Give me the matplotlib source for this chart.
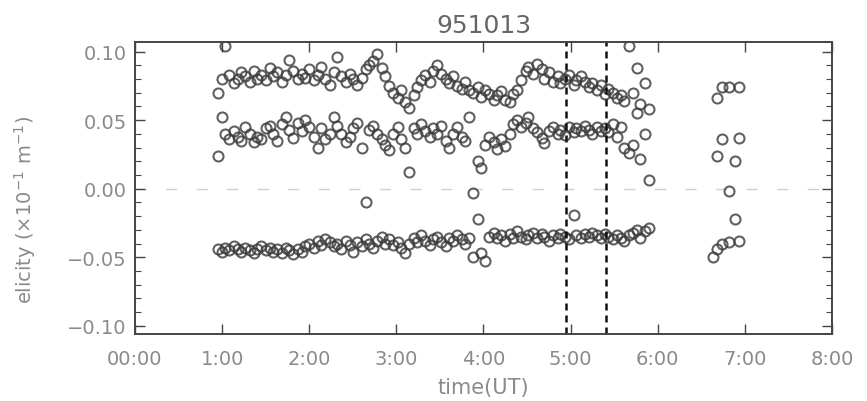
import numpy as np
import matplotlib
matplotlib.use("Agg")
import matplotlib.pyplot as plt
from matplotlib.ticker import FixedLocator, MultipleLocator

title = "951013"
xlabel = "time(UT)"
ylabel = "elicity (\u00d710$^{-1}$ m$^{-1}$)"
xtick_labels = ["00:00", "1:00", "2:00", "3:00", "4:00", "5:00", "6:00", "7:00", "8:00"]
ytick_values = [-0.10, -0.05, 0.00, 0.05, 0.10]
vlines_hours = [4.95, 5.41]

nan = np.nan
minutes = [57, 60, 62, 65, 68, 71, 73, 76, 79, 82, 84, 87, 90, 93, 95, 98, 101, 104, 106, 109,
           112, 115, 117, 120, 123, 126, 128, 131, 134, 137, 139, 142, 145, 148, 150, 153, 156, 159, 161, 164,
           167, 170, 172, 175, 178, 181, 183, 186, 189, 192, 194, 197, 200, 203, 205, 208, 211, 214, 216, 219,
           222, 225, 227, 230, 233, 236, 238, 241, 244, 247, 249, 252, 255, 258, 260, 263, 266, 269, 271, 274,
           277, 280, 282, 285, 288, 291, 293, 296, 299, 302, 304, 307, 310, 313, 315, 318, 321, 324, 326, 329,
           332, 335, 337, 340, 343, 346, 348, 351, 354,
           398, 401, 404, 409, 413, 416]

upper = [0.070, 0.080, 0.104, 0.083, 0.077, 0.080, 0.085, 0.082, 0.078, 0.086, 0.080, 0.083, 0.079, 0.088, 0.082, 0.085, 0.078, 0.083, 0.094, 0.086,
         0.080, 0.084, 0.081, 0.087, 0.079, 0.083, 0.089, 0.080, 0.076, 0.085, 0.096, 0.082, 0.078, 0.084, 0.080, 0.076, 0.081, 0.087, 0.090, 0.093,
         0.098, 0.088, 0.082, 0.075, 0.070, 0.066, 0.072, 0.063, 0.059, 0.068, 0.074, 0.079, 0.083, 0.078, 0.086, 0.090, 0.084, 0.080, 0.077, 0.082,
         0.075, 0.073, 0.078, 0.072, 0.070, 0.074, 0.067, 0.072, 0.069, 0.065, 0.068, 0.071, 0.065, 0.063, 0.069, 0.072, 0.079, 0.086, 0.089, 0.084,
         0.091, 0.087, 0.080, 0.085, 0.078, 0.082, 0.077, 0.080, 0.083, 0.076, 0.079, 0.082, 0.078, 0.074, 0.077, 0.072, 0.076, 0.069, 0.073, 0.070,
         0.066, 0.068, 0.064, 0.104, 0.070, 0.088, 0.062, 0.077, 0.058,
         nan, 0.066, 0.074, 0.074, nan, 0.074]

middle = [0.024, 0.052, 0.040, 0.036, 0.042, 0.038, 0.035, 0.045, 0.040, 0.034, 0.038, 0.036, 0.044, 0.046, 0.040, 0.035, 0.047, 0.052, 0.043, 0.037,
          0.048, 0.042, 0.050, 0.045, 0.038, 0.030, 0.044, 0.036, 0.040, 0.052, 0.046, 0.040, 0.034, 0.038, 0.044, 0.048, 0.030, -0.010, 0.043, 0.046,
          0.040, 0.036, 0.032, 0.028, 0.040, 0.045, 0.036, 0.030, 0.012, 0.044, 0.040, 0.047, 0.042, 0.038, 0.044, 0.040, 0.046, 0.035, 0.030, 0.040,
          0.045, 0.038, 0.035, 0.052, -0.003, 0.020, 0.015, 0.032, 0.038, 0.034, 0.029, 0.036, 0.031, 0.040, 0.047, 0.050, 0.045, 0.048, 0.052, 0.044,
          0.041, 0.037, 0.033, 0.042, 0.045, 0.040, 0.043, 0.039, 0.045, 0.041, 0.044, 0.042, 0.046, 0.043, 0.040, 0.045, 0.042, 0.044, 0.041, 0.047,
          0.038, 0.045, 0.030, 0.026, 0.032, 0.055, 0.022, 0.040, 0.006,
          nan, 0.024, 0.036, -0.002, 0.020, 0.037]

lower = [-0.044, -0.046, -0.043, -0.045, -0.042, -0.044, -0.046, -0.043, -0.045, -0.047, -0.044, -0.042, -0.045, -0.043, -0.046, -0.044, -0.047, -0.043, -0.045, -0.048,
         -0.044, -0.046, -0.042, -0.040, -0.043, -0.038, -0.041, -0.037, -0.039, -0.042, -0.040, -0.044, -0.038, -0.041, -0.046, -0.039, -0.042, -0.037, -0.040, -0.043,
         -0.038, -0.035, -0.040, -0.037, -0.041, -0.039, -0.043, -0.047, -0.040, -0.036, -0.039, -0.034, -0.038, -0.041, -0.037, -0.035, -0.039, -0.042, -0.036, -0.038,
         -0.034, -0.037, -0.040, -0.036, -0.050, -0.022, -0.047, -0.053, -0.035, -0.032, -0.036, -0.034, -0.038, -0.033, -0.036, -0.031, -0.035, -0.037, -0.034, -0.032,
         -0.036, -0.033, -0.035, -0.038, -0.034, -0.036, -0.033, -0.035, -0.037, -0.019, -0.034, -0.036, -0.033, -0.035, -0.032, -0.034, -0.036, -0.033, -0.035, -0.037,
         -0.034, -0.036, -0.038, -0.034, -0.032, -0.030, -0.036, -0.031, -0.029,
         -0.050, -0.044, -0.040, -0.039, -0.022, -0.038]

hours = np.array(minutes) / 60.0

fig = plt.figure(figsize=(8.67, 4.02), dpi=100)
ax = fig.add_axes([0.1557, 0.1667, 0.9596 - 0.1557, 0.893 - 0.1667])

mk = dict(marker="o", linestyle="none", markersize=7.2, markerfacecolor="none",
          markeredgecolor="#3a3a3a", markeredgewidth=1.5, alpha=0.8)
for series in (upper, middle, lower):
    ax.plot(hours, series, **mk)

ax.axhline(0.0, color="#d0d0d0", lw=1.0, dashes=(8, 14), zorder=0)
for vx in vlines_hours:
    ax.axvline(vx, color="#111111", lw=1.8, dashes=(2.8, 2.0))

ax.set_xlim(0, 8)
ax.set_ylim(-0.106, 0.107)
ax.xaxis.set_major_locator(FixedLocator(range(len(xtick_labels))))
ax.set_xticklabels(xtick_labels)
ax.yaxis.set_major_locator(FixedLocator(ytick_values))
ax.yaxis.set_minor_locator(MultipleLocator(0.01))
ax.set_yticklabels([f"{v:.2f}".replace("-", "\u2212") for v in ytick_values])

ax.tick_params(which="both", direction="in", top=True, right=True, colors="#444444",
               labelcolor="#8a8a8a", labelsize=14)
ax.tick_params(axis="x", pad=11)
ax.tick_params(axis="y", pad=6)
ax.tick_params(which="major", length=7, width=1.0)
ax.tick_params(which="minor", length=4, width=0.8)
for s in ax.spines.values():
    s.set_color("#444444")
    s.set_linewidth(1.4)

ax.set_title(title, fontsize=18, color="#666666", pad=7)
ax.set_xlabel(xlabel, fontsize=15, color="#8a8a8a", labelpad=6)
fig.text(25 / 867, 1 - 210 / 402, ylabel, rotation=90, fontsize=14, color="#8a8a8a",
         ha="center", va="center")

fig.savefig("out.png", dpi=100)
